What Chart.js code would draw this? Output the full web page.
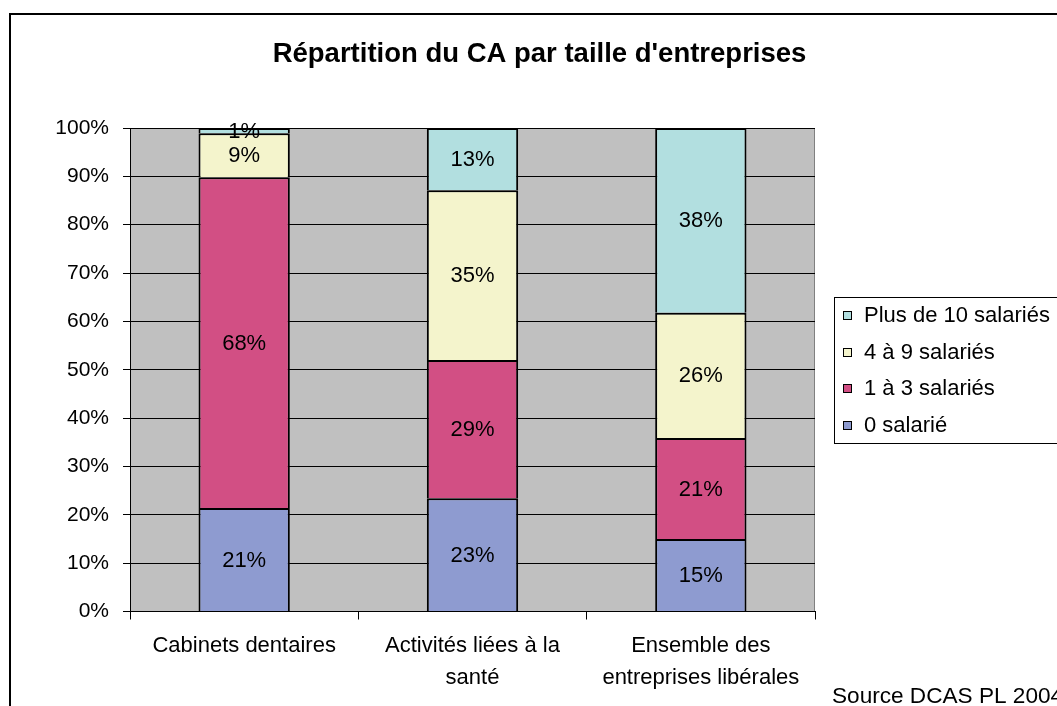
<!DOCTYPE html>
<html><head><meta charset="utf-8">
<script src="https://cdn.jsdelivr.net/npm/chart.js@4.4.0/dist/chart.umd.min.js"></script>
<style>html,body{margin:0;padding:0;background:#fff;}canvas{display:block}</style>
</head><body>
<canvas id="c" width="1057" height="706"></canvas>
<script>
// ---- data ----
const categories = [["Cabinets dentaires"], ["Activités liées à la", "santé"], ["Ensemble des", "entreprises libérales"]];
const seriesNames = ["0 salarié", "1 à 3 salariés", "4 à 9 salariés", "Plus de 10 salariés"];
const zeroSalarie = [21.4, 23.4, 15.0];
const unATroisSalaries = [68.4, 28.6, 20.9];
const quatreANeufSalaries = [9.1, 35.1, 25.9];
const plusDeDixSalaries = [1.1, 12.9, 38.2];
const yTickStep = 10;
const yMax = 100;
const titleText = "Répartition du CA par taille d'entreprises";
const sourceText = "Source DCAS PL 2004";
// ---- styles ----
const seriesColors = ["#8E9BD0", "#D24F84", "#F4F4CC", "#B2DFE0"];
const FONT = '"Liberation Sans", Arial, sans-serif';

const seriesValues = [zeroSalarie, unATroisSalaries, quatreANeufSalaries, plusDeDixSalaries];

const decor = {
  id: 'decor',
  beforeDraw(chart) {
    const ctx = chart.ctx, a = chart.chartArea;
    ctx.save();
    ctx.fillStyle = '#fff';
    ctx.fillRect(0, 0, chart.width, chart.height);
    ctx.fillStyle = '#C0C0C0';
    ctx.fillRect(a.left, a.top, a.right - a.left, a.bottom - a.top);
    ctx.strokeStyle = '#808080';
    ctx.lineWidth = 1;
    ctx.beginPath();
    ctx.moveTo(Math.round(a.right) - 0.5, a.top);
    ctx.lineTo(Math.round(a.right) - 0.5, a.bottom);
    ctx.stroke();
    ctx.restore();
  },
  afterDraw(chart) {
    const ctx = chart.ctx;
    ctx.save();
    // data labels
    ctx.fillStyle = '#000';
    ctx.font = '22px ' + FONT;
    ctx.textAlign = 'center';
    ctx.textBaseline = 'middle';
    chart.data.datasets.forEach((ds, i) => {
      const meta = chart.getDatasetMeta(i);
      meta.data.forEach((el, j) => {
        const v = ds.data[j];
        const cy = (el.y + el.base) / 2;
        ctx.fillText(Math.round(v) + '%', el.x, cy + 1);
      });
    });
    // title
    ctx.font = 'bold 27.5px ' + FONT;
    ctx.textBaseline = 'alphabetic';
    ctx.fillText(titleText, 539.5, 62);
    // legend
    const lx = 834.5, ly = 297.5, lw = 400, lh = 146;
    ctx.fillStyle = '#fff';
    ctx.fillRect(lx, ly, lw, lh);
    ctx.strokeStyle = '#000';
    ctx.lineWidth = 1;
    ctx.strokeRect(lx, ly, lw, lh);
    ctx.font = '22px ' + FONT;
    ctx.textAlign = 'left';
    ctx.textBaseline = 'middle';
    const n = chart.data.datasets.length;
    for (let k = 0; k < n; k++) {
      const ds = chart.data.datasets[n - 1 - k];
      const cy = 315 + k * 36.7;
      ctx.fillStyle = ds.backgroundColor;
      ctx.fillRect(843.5, Math.round(cy) - 3.5, 8, 8);
      ctx.strokeStyle = '#000';
      ctx.strokeRect(843.5, Math.round(cy) - 3.5, 8, 8);
      ctx.fillStyle = '#000';
      ctx.fillText(ds.label, 864, cy + 1);
    }
    // source
    ctx.font = '22.6px ' + FONT;
    ctx.textBaseline = 'alphabetic';
    ctx.fillText(sourceText, 832, 703);
    // outer border
    ctx.strokeStyle = '#000';
    ctx.lineWidth = 2;
    ctx.strokeRect(10, 14, 1200, 900);
    ctx.restore();
  }
};

new Chart(document.getElementById('c'), {
  type: 'bar',
  data: {
    labels: categories,
    datasets: seriesValues.map((vals, i) => ({
      label: seriesNames[i],
      data: vals,
      backgroundColor: seriesColors[i],
      borderColor: '#000',
      borderWidth: 2,
      categoryPercentage: 1,
      barPercentage: 0.4
    }))
  },
  options: {
    responsive: false,
    animation: false,
    devicePixelRatio: 1,
    layout: { padding: { left: 0, top: 128, right: 242, bottom: 0 } },
    plugins: { legend: { display: false }, title: { display: false }, tooltip: { enabled: false } },
    scales: {
      x: {
        stacked: true,
        grid: { display: true, drawOnChartArea: false, drawTicks: true, tickLength: 8, color: '#000', offset: true },
        border: { display: true, color: '#000' },
        ticks: { font: { family: FONT, size: 22, lineHeight: 1.47 }, color: '#000', padding: 10, maxRotation: 0, autoSkip: false },
        afterFit(s) { s.height = 94.5; }
      },
      y: {
        stacked: true,
        min: 0, max: yMax,
        grid: { color: '#000', tickLength: 7 },
        border: { display: true, color: '#000' },
        ticks: { stepSize: yTickStep, font: { family: FONT, size: 21 }, color: '#000', padding: 14,
                 callback: v => v + '%' },
        afterFit(s) { s.width = 130; }
      }
    }
  },
  plugins: [decor]
});
</script>
</body></html>
